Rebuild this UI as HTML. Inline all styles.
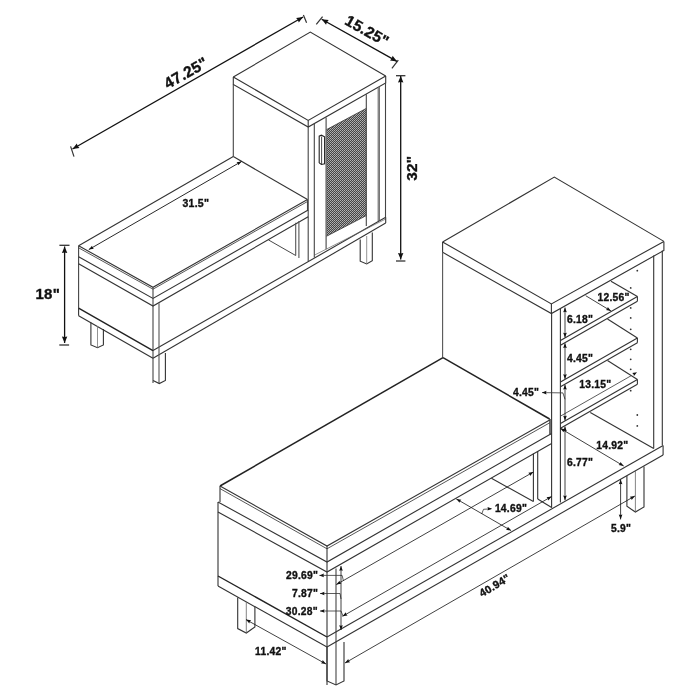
<!DOCTYPE html>
<html><head><meta charset="utf-8"><style>
html,body{margin:0;padding:0;background:#fff;width:700px;height:700px;overflow:hidden}
svg{display:block;will-change:transform}
text{font-family:"Liberation Sans",sans-serif;font-weight:bold;fill:#111;stroke:#111;stroke-width:0.35px;letter-spacing:0.25px}
</style></head><body>
<svg width="700" height="700" viewBox="0 0 700 700" shape-rendering="geometricPrecision">
<defs><pattern id="mesh" width="2" height="2" patternUnits="userSpaceOnUse"><rect width="2" height="2" fill="#444"/><rect width="1" height="1" fill="#b4b4b4"/><rect x="1" y="1" width="1" height="1" fill="#a0a0a0"/></pattern></defs>
<polygon points="326.60,129.60 366.30,108.40 366.30,215.60 326.60,236.20" fill="url(#mesh)"/>
<polyline points="233.30,77.00 310.30,32.10 385.70,76.10" stroke="#333" stroke-width="1.1" fill="none"/>
<polyline points="233.30,77.00 308.20,120.40 385.70,76.10" stroke="#333" stroke-width="1.1" fill="none"/>
<polyline points="233.30,77.00 233.30,84.40 308.20,127.10 385.70,82.90 385.70,76.10" stroke="#333" stroke-width="1.1" fill="none"/>
<polyline points="308.20,120.40 308.20,127.10" stroke="#333" stroke-width="1.1" fill="none"/>
<polyline points="233.30,84.40 233.30,156.60" stroke="#444" stroke-width="1.1" fill="none"/>
<polyline points="308.20,127.10 308.20,261.60" stroke="#444" stroke-width="1.1" fill="none"/>
<polyline points="314.30,123.80 314.30,257.60" stroke="#444" stroke-width="1.1" fill="none"/>
<polyline points="326.10,117.50 326.10,249.30" stroke="#444" stroke-width="1.1" fill="none"/>
<polyline points="326.60,129.60 366.30,108.40" stroke="#333" stroke-width="0.8" fill="none"/>
<polyline points="326.60,236.20 366.30,215.60" stroke="#333" stroke-width="0.8" fill="none"/>
<polyline points="366.30,94.30 366.30,226.00" stroke="#444" stroke-width="1.1" fill="none"/>
<polyline points="378.20,87.50 378.20,221.00" stroke="#555" stroke-width="1.0" fill="none"/>
<polyline points="379.50,86.80 379.50,220.20" stroke="#777" stroke-width="1.0" fill="none"/>
<polyline points="385.50,82.90 385.50,217.30" stroke="#444" stroke-width="1.1" fill="none"/>
<polyline points="319.20,162.90 319.20,136.20 321.40,135.20 324.60,136.80 324.60,163.80 321.40,164.50 319.20,162.90" stroke="#222" stroke-width="1.1" fill="none"/>
<polyline points="321.60,136.50 321.60,164.30" stroke="#333" stroke-width="0.9" fill="none"/>
<polyline points="153.00,350.60 385.70,217.20" stroke="#333" stroke-width="1.1" fill="none"/>
<polyline points="314.30,255.20 385.70,219.00" stroke="#666" stroke-width="0.7" fill="none"/>
<polyline points="153.00,358.30 385.70,223.10" stroke="#333" stroke-width="1.1" fill="none"/>
<polyline points="385.70,217.20 385.70,223.10" stroke="#333" stroke-width="1.1" fill="none"/>
<polyline points="360.20,239.40 360.20,261.20 366.70,264.00 372.30,260.70 372.30,232.40" stroke="#333" stroke-width="1.1" fill="none"/>
<polyline points="366.70,236.00 366.70,264.00" stroke="#777" stroke-width="0.8" fill="none"/>
<polyline points="78.60,245.70 233.30,156.60" stroke="#333" stroke-width="1.1" fill="none"/>
<polyline points="78.60,245.70 153.00,287.30 307.50,199.60" stroke="#333" stroke-width="1.1" fill="none"/>
<polyline points="233.30,156.60 307.50,199.60" stroke="#333" stroke-width="1.1" fill="none"/>
<polyline points="78.60,247.80 153.00,289.20 307.50,201.50" stroke="#444" stroke-width="0.9" fill="none"/>
<polyline points="78.60,245.70 78.60,308.10" stroke="#444" stroke-width="1.1" fill="none"/>
<polyline points="78.60,256.70 153.00,298.40 308.20,210.00" stroke="#333" stroke-width="1.1" fill="none"/>
<polyline points="153.00,287.30 153.00,383.00" stroke="#444" stroke-width="1.1" fill="none"/>
<polyline points="307.50,199.60 307.50,210.00" stroke="#444" stroke-width="1.1" fill="none"/>
<polyline points="78.60,263.80 153.00,306.10 308.20,216.80" stroke="#333" stroke-width="1.1" fill="none"/>
<polyline points="159.00,303.30 159.00,383.00" stroke="#555" stroke-width="1.1" fill="none"/>
<polyline points="295.70,222.80 295.70,255.50" stroke="#555" stroke-width="1.1" fill="none"/>
<polyline points="298.90,221.00 298.90,258.00" stroke="#555" stroke-width="1.1" fill="none"/>
<polyline points="268.40,239.90 295.70,255.50" stroke="#333" stroke-width="0.9" fill="none"/>
<polyline points="78.60,308.10 153.00,350.60" stroke="#222" stroke-width="1.4" fill="none"/>
<polyline points="78.60,315.70 153.00,358.30" stroke="#333" stroke-width="1.1" fill="none"/>
<polyline points="78.60,308.10 78.60,315.70" stroke="#333" stroke-width="1.1" fill="none"/>
<polyline points="90.90,322.60 90.90,345.00 97.50,347.70 103.40,345.00 103.40,329.00" stroke="#333" stroke-width="1.1" fill="none"/>
<polyline points="97.50,326.00 97.50,347.70" stroke="#777" stroke-width="0.8" fill="none"/>
<polyline points="165.40,352.90 165.40,380.50 159.30,383.60 153.10,380.50" stroke="#333" stroke-width="1.1" fill="none"/>
<polyline points="70.60,146.40 74.00,156.60" stroke="#333" stroke-width="1.2" fill="none"/>
<polyline points="303.40,15.00 306.60,22.70" stroke="#333" stroke-width="1.2" fill="none"/>
<polyline points="316.30,24.40 322.60,16.70" stroke="#333" stroke-width="1.2" fill="none"/>
<polyline points="391.90,68.30 398.30,60.10" stroke="#333" stroke-width="1.2" fill="none"/>
<polyline points="396.00,75.70 405.40,75.70" stroke="#333" stroke-width="1.3" fill="none"/>
<polyline points="396.00,261.00 405.40,261.00" stroke="#333" stroke-width="1.3" fill="none"/>
<polyline points="59.40,245.30 69.50,245.30" stroke="#333" stroke-width="1.3" fill="none"/>
<polyline points="59.30,345.00 69.10,345.00" stroke="#333" stroke-width="1.3" fill="none"/>
<polyline points="442.60,242.00 554.30,177.10 663.90,241.40" stroke="#333" stroke-width="1.1" fill="none"/>
<polyline points="442.60,242.00 551.40,303.90 663.90,241.40" stroke="#333" stroke-width="1.1" fill="none"/>
<polyline points="442.60,242.00 442.60,252.30 551.40,313.60 663.90,250.40 663.90,241.40" stroke="#333" stroke-width="1.1" fill="none"/>
<polyline points="551.40,303.90 551.40,313.60" stroke="#333" stroke-width="1.1" fill="none"/>
<polyline points="442.60,252.30 442.60,357.60" stroke="#555" stroke-width="1.1" fill="none"/>
<polyline points="551.60,313.60 551.60,507.70" stroke="#333" stroke-width="1.1" fill="none"/>
<polyline points="560.40,309.00 560.40,502.50" stroke="#333" stroke-width="1.1" fill="none"/>
<polyline points="653.70,255.50 653.70,448.50" stroke="#333" stroke-width="1.1" fill="none"/>
<polyline points="662.30,250.50 662.30,445.00" stroke="#333" stroke-width="1.1" fill="none"/>
<polyline points="637.40,296.50 560.50,340.50" stroke="#333" stroke-width="1.1" fill="none"/>
<polyline points="637.40,301.30 560.50,345.30" stroke="#333" stroke-width="1.1" fill="none"/>
<polyline points="637.40,296.50 637.40,301.30" stroke="#333" stroke-width="1.1" fill="none"/>
<polyline points="611.00,281.30 637.40,296.50" stroke="#333" stroke-width="1.1" fill="none"/>
<polyline points="637.40,338.00 560.50,382.00" stroke="#333" stroke-width="1.1" fill="none"/>
<polyline points="637.40,342.80 560.50,386.80" stroke="#333" stroke-width="1.1" fill="none"/>
<polyline points="637.40,338.00 637.40,342.80" stroke="#333" stroke-width="1.1" fill="none"/>
<polyline points="607.50,319.00 637.40,338.00" stroke="#333" stroke-width="1.1" fill="none"/>
<polyline points="637.40,379.50 560.50,423.50" stroke="#333" stroke-width="1.1" fill="none"/>
<polyline points="637.40,384.30 560.50,428.30" stroke="#333" stroke-width="1.1" fill="none"/>
<polyline points="637.40,379.50 637.40,384.30" stroke="#333" stroke-width="1.1" fill="none"/>
<polyline points="607.50,360.50 637.40,379.50" stroke="#333" stroke-width="1.1" fill="none"/>
<polyline points="590.30,412.50 653.70,448.50" stroke="#333" stroke-width="1.1" fill="none"/>
<polyline points="443.00,357.60 220.00,486.00" stroke="#222" stroke-width="1.5" fill="none"/>
<polyline points="443.00,357.60 549.60,419.00" stroke="#222" stroke-width="1.5" fill="none"/>
<polyline points="220.00,486.00 327.00,546.00 549.70,420.00" stroke="#333" stroke-width="1.1" fill="none"/>
<polyline points="220.00,488.60 327.00,548.80 549.70,422.80" stroke="#444" stroke-width="0.9" fill="none"/>
<polyline points="220.00,486.00 220.00,502.00" stroke="#333" stroke-width="1.1" fill="none"/>
<polyline points="327.00,546.00 327.00,562.00" stroke="#333" stroke-width="1.1" fill="none"/>
<polyline points="550.00,419.00 550.00,434.60" stroke="#222" stroke-width="1.3" fill="none"/>
<polyline points="218.00,502.00 327.00,562.00 551.60,433.50" stroke="#333" stroke-width="1.1" fill="none"/>
<polyline points="218.00,512.00 327.00,572.00 551.60,443.50" stroke="#333" stroke-width="1.1" fill="none"/>
<polyline points="218.00,502.00 218.00,586.00" stroke="#333" stroke-width="1.1" fill="none"/>
<polyline points="327.00,562.00 327.00,685.00" stroke="#333" stroke-width="1.1" fill="none"/>
<polyline points="336.00,568.50 336.00,685.00" stroke="#444" stroke-width="1.1" fill="none"/>
<polyline points="218.00,576.00 327.00,637.00" stroke="#222" stroke-width="1.4" fill="none"/>
<polyline points="218.00,586.00 327.00,647.00" stroke="#333" stroke-width="1.1" fill="none"/>
<polyline points="327.00,637.00 663.10,445.40" stroke="#333" stroke-width="1.1" fill="none"/>
<polyline points="327.00,647.00 663.10,454.90" stroke="#333" stroke-width="1.1" fill="none"/>
<polyline points="663.10,445.40 663.10,454.90" stroke="#333" stroke-width="1.1" fill="none"/>
<polyline points="533.40,453.40 533.40,501.40" stroke="#333" stroke-width="1.1" fill="none"/>
<polyline points="537.70,451.00 537.70,499.00" stroke="#333" stroke-width="1.1" fill="none"/>
<polyline points="491.40,478.30 533.40,501.40" stroke="#333" stroke-width="1.1" fill="none"/>
<polyline points="537.70,499.00 551.60,507.50" stroke="#333" stroke-width="1.1" fill="none"/>
<polyline points="237.70,597.50 237.70,628.60 246.30,633.00 254.90,627.00 254.90,606.50" stroke="#333" stroke-width="1.1" fill="none"/>
<polyline points="246.30,602.00 246.30,633.00" stroke="#666" stroke-width="0.8" fill="none"/>
<polyline points="327.00,647.00 327.00,681.00 336.00,685.00 344.00,681.00 344.00,642.00" stroke="#333" stroke-width="1.1" fill="none"/>
<polyline points="626.90,476.00 626.90,506.30 635.40,512.00 644.00,506.90 644.00,466.50" stroke="#333" stroke-width="1.1" fill="none"/>
<polyline points="635.40,471.00 635.40,512.00" stroke="#666" stroke-width="0.8" fill="none"/>
<polyline points="542.00,392.60 562.90,392.90 565.00,399.30" stroke="#333" stroke-width="0.8" fill="none"/>
<polyline points="319.40,575.40 342.10,575.40 343.40,580.60" stroke="#333" stroke-width="0.8" fill="none"/>
<polyline points="320.00,593.50 340.00,593.50 341.00,599.00" stroke="#333" stroke-width="0.8" fill="none"/>
<polyline points="320.00,611.00 341.00,611.00 343.00,616.00" stroke="#333" stroke-width="0.8" fill="none"/>
<polyline points="481.70,514.00 483.50,509.30 491.40,508.80" stroke="#333" stroke-width="0.8" fill="none"/>
<polyline points="631.00,375.80 560.70,416.00" stroke="#333" stroke-width="0.8" fill="none"/>
<line x1="72.5" y1="149" x2="303.1" y2="17" stroke="#111" stroke-width="1.3"/>
<polygon points="72.50,149.00 76.80,143.43 77.71,146.02 79.48,148.11" fill="#111"/>
<polygon points="303.10,17.00 298.80,22.57 297.89,19.98 296.12,17.89" fill="#111"/>
<line x1="321.7" y1="19.3" x2="397" y2="61.4" stroke="#111" stroke-width="1.3"/>
<polygon points="321.70,19.30 328.69,20.12 326.94,22.23 326.06,24.83" fill="#111"/>
<polygon points="397.00,61.40 390.01,60.58 391.76,58.47 392.64,55.87" fill="#111"/>
<line x1="400.7" y1="76" x2="400.7" y2="259.5" stroke="#111" stroke-width="1.3"/>
<polygon points="400.70,76.00 403.40,82.50 400.70,82.00 398.00,82.50" fill="#111"/>
<polygon points="400.70,259.50 398.00,253.00 400.70,253.50 403.40,253.00" fill="#111"/>
<line x1="64.6" y1="246.5" x2="64.6" y2="343" stroke="#111" stroke-width="1.3"/>
<polygon points="64.60,246.50 67.30,253.00 64.60,252.50 61.90,253.00" fill="#111"/>
<polygon points="64.60,343.00 61.90,336.50 64.60,337.00 67.30,336.50" fill="#111"/>
<line x1="88.8" y1="249.6" x2="241.6" y2="161.4" stroke="#111" stroke-width="0.9"/>
<polygon points="88.80,249.60 92.06,245.64 92.52,247.45 93.86,248.76" fill="#111"/>
<polygon points="241.60,161.40 238.34,165.36 237.88,163.55 236.54,162.24" fill="#111"/>
<line x1="336.3" y1="584.6" x2="533.4" y2="472" stroke="#111" stroke-width="0.8"/>
<polygon points="336.30,584.60 339.57,580.66 340.03,582.47 341.36,583.78" fill="#111"/>
<polygon points="533.40,472.00 530.13,475.94 529.67,474.13 528.34,472.82" fill="#111"/>
<line x1="342.5" y1="616.3" x2="551.6" y2="496.5" stroke="#111" stroke-width="0.8"/>
<polygon points="342.50,616.30 345.77,612.35 346.23,614.16 347.56,615.48" fill="#111"/>
<polygon points="551.60,496.50 548.33,500.45 547.87,498.64 546.54,497.32" fill="#111"/>
<line x1="456.3" y1="498.9" x2="511.1" y2="530.6" stroke="#111" stroke-width="0.8"/>
<polygon points="456.30,498.90 461.36,499.75 460.02,501.05 459.55,502.86" fill="#111"/>
<polygon points="511.10,530.60 506.04,529.75 507.38,528.45 507.85,526.64" fill="#111"/>
<line x1="345" y1="663" x2="634.9" y2="496" stroke="#111" stroke-width="0.8"/>
<polygon points="345.00,663.00 348.26,659.04 348.73,660.85 350.06,662.16" fill="#111"/>
<polygon points="634.90,496.00 631.64,499.96 631.17,498.15 629.84,496.84" fill="#111"/>
<line x1="246" y1="619.6" x2="326" y2="664" stroke="#111" stroke-width="0.8"/>
<polygon points="246.00,619.60 251.07,620.36 249.76,621.69 249.32,623.50" fill="#111"/>
<polygon points="326.00,664.00 320.93,663.24 322.24,661.91 322.68,660.10" fill="#111"/>
<line x1="620.6" y1="479.4" x2="620.6" y2="519.4" stroke="#111" stroke-width="0.8"/>
<polygon points="620.60,479.40 622.40,484.20 620.60,483.70 618.80,484.20" fill="#111"/>
<polygon points="620.60,519.40 618.80,514.60 620.60,515.10 622.40,514.60" fill="#111"/>
<line x1="560.3" y1="428.3" x2="623.7" y2="466" stroke="#111" stroke-width="0.8"/>
<polygon points="560.30,428.30 565.35,429.21 564.00,430.50 563.51,432.30" fill="#111"/>
<polygon points="623.70,466.00 618.65,465.09 620.00,463.80 620.49,462.00" fill="#111"/>
<line x1="565" y1="426.5" x2="565" y2="500.3" stroke="#111" stroke-width="0.8"/>
<polygon points="565.00,426.50 566.80,431.30 565.00,430.80 563.20,431.30" fill="#111"/>
<polygon points="565.00,500.30 563.20,495.50 565.00,496.00 566.80,495.50" fill="#111"/>
<line x1="565" y1="307.5" x2="565" y2="337.5" stroke="#111" stroke-width="0.8"/>
<polygon points="565.00,307.50 566.80,312.30 565.00,311.80 563.20,312.30" fill="#111"/>
<polygon points="565.00,337.50 563.20,332.70 565.00,333.20 566.80,332.70" fill="#111"/>
<line x1="565" y1="343.3" x2="565" y2="379" stroke="#111" stroke-width="0.8"/>
<polygon points="565.00,343.30 566.80,348.10 565.00,347.60 563.20,348.10" fill="#111"/>
<polygon points="565.00,379.00 563.20,374.20 565.00,374.70 566.80,374.20" fill="#111"/>
<line x1="565" y1="384.8" x2="565" y2="420.5" stroke="#111" stroke-width="0.8"/>
<polygon points="565.00,384.80 566.80,389.60 565.00,389.10 563.20,389.60" fill="#111"/>
<polygon points="565.00,420.50 563.20,415.70 565.00,416.20 566.80,415.70" fill="#111"/>
<line x1="585.7" y1="295.7" x2="611" y2="311" stroke="#111" stroke-width="0.8"/>
<polygon points="611.00,311.00 605.96,310.06 607.32,308.77 607.82,306.98" fill="#111"/>
<line x1="341" y1="566" x2="341" y2="630" stroke="#111" stroke-width="0.8"/>
<polygon points="341.00,566.00 342.80,570.80 341.00,570.30 339.20,570.80" fill="#111"/>
<polygon points="341.00,630.00 339.20,625.20 341.00,625.70 342.80,625.20" fill="#111"/>
<circle cx="637.3" cy="270.7" r="0.9" fill="#333"/>
<circle cx="630.7" cy="287.9" r="0.9" fill="#333"/>
<circle cx="630.7" cy="307.9" r="0.9" fill="#333"/>
<circle cx="630.7" cy="317.9" r="0.9" fill="#333"/>
<circle cx="630.7" cy="329.3" r="0.9" fill="#333"/>
<circle cx="630.7" cy="349.3" r="0.9" fill="#333"/>
<circle cx="630.7" cy="359.3" r="0.9" fill="#333"/>
<circle cx="630.7" cy="369.3" r="0.9" fill="#333"/>
<circle cx="630.7" cy="390.7" r="0.9" fill="#333"/>
<circle cx="637.3" cy="415" r="0.9" fill="#333"/>
<circle cx="637.3" cy="425.9" r="0.9" fill="#333"/>
<polygon points="542.00,392.60 546.50,390.80 546.00,392.60 546.50,394.40" fill="#111"/>
<polygon points="319.40,575.40 323.90,573.60 323.40,575.40 323.90,577.20" fill="#111"/>
<polygon points="320.00,593.50 324.50,591.70 324.00,593.50 324.50,595.30" fill="#111"/>
<polygon points="320.00,611.00 324.50,609.20 324.00,611.00 324.50,612.80" fill="#111"/>
<polygon points="492.00,508.80 487.50,510.60 488.00,508.80 487.50,507.00" fill="#111"/>
<polygon points="637.00,372.30 633.96,376.08 633.51,374.26 632.20,372.94" fill="#111"/>
<text x="188.5" y="77.5" font-size="15.5" text-anchor="middle" transform="rotate(-29.5 188.5 77.5)">47.25&quot;</text>
<text x="364.5" y="35.5" font-size="15.5" text-anchor="middle" transform="rotate(29.5 364.5 35.5)">15.25&quot;</text>
<text x="417.2" y="168.3" font-size="15.3" text-anchor="middle" transform="rotate(-90 417.2 168.3)">32&quot;</text>
<text x="35.5" y="299.3" font-size="15" text-anchor="start">18&quot;</text>
<text x="182.5" y="207" font-size="10.5" text-anchor="start">31.5&quot;</text>
<text x="513" y="396" font-size="10.3" text-anchor="start">4.45&quot;</text>
<text x="597.5" y="300.5" font-size="10.3" text-anchor="start">12.56&quot;</text>
<text x="567" y="323" font-size="10.3" text-anchor="start">6.18&quot;</text>
<text x="567" y="361.5" font-size="10.3" text-anchor="start">4.45&quot;</text>
<text x="579.3" y="388" font-size="10.3" text-anchor="start">13.15&quot;</text>
<text x="596.3" y="449" font-size="10.3" text-anchor="start">14.92&quot;</text>
<text x="567" y="466" font-size="10.3" text-anchor="start">6.77&quot;</text>
<text x="494.9" y="511.8" font-size="10.3" text-anchor="start">14.69&quot;</text>
<text x="611" y="532" font-size="10.3" text-anchor="start">5.9&quot;</text>
<text x="496.5" y="588.7" font-size="10.8" text-anchor="middle" transform="rotate(-31 496.5 588.7)">40.94&quot;</text>
<text x="255" y="655" font-size="10.3" text-anchor="start">11.42&quot;</text>
<text x="286" y="579" font-size="10.3" text-anchor="start">29.69&quot;</text>
<text x="292" y="597" font-size="10.3" text-anchor="start">7.87&quot;</text>
<text x="285.7" y="614.5" font-size="10.3" text-anchor="start">30.28&quot;</text>
</svg></body></html>
